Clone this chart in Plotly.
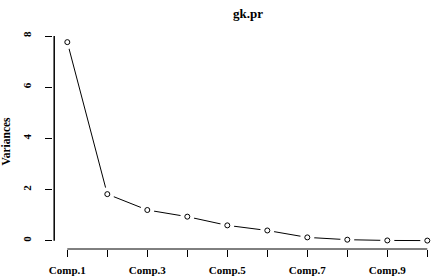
import plotly.graph_objects as go

categories = ["Comp.1", "Comp.2", "Comp.3", "Comp.4", "Comp.5",
              "Comp.6", "Comp.7", "Comp.8", "Comp.9", "Comp.10"]
variances = [7.76, 1.82, 1.20, 0.94, 0.60, 0.40, 0.13, 0.04, 0.01, 0.005]
x_tick_labels = ["Comp.1", "", "Comp.3", "", "Comp.5", "", "Comp.7", "", "Comp.9", ""]
y_ticks = [0, 2, 4, 6, 8]
title_text = "gk.pr"
y_title = "Variances"

FONT = "Liberation Serif"
Y_RANGE = [-0.324, 8.078]
X_RANGE = [-0.3575, 9.1425]

fig = go.Figure()
fig.add_trace(go.Scatter(x=categories, y=variances, mode="lines",
                         line=dict(color="black", width=1), hoverinfo="skip"))
fig.add_trace(go.Scatter(x=categories, y=variances, mode="markers",
                         marker=dict(symbol="circle", size=14, color="white",
                                     line=dict(width=0)),
                         hoverinfo="skip"))
fig.add_trace(go.Scatter(x=categories, y=variances, mode="markers",
                         marker=dict(symbol="circle-open", size=5, color="black",
                                     line=dict(width=1, color="black"))))

fig.update_layout(
    width=433, height=278,
    margin=dict(l=53, r=0, t=34, b=29),
    paper_bgcolor="white", plot_bgcolor="white",
    showlegend=False,
    font=dict(family=FONT, color="black", size=11),
    title=dict(text="<b>%s</b>" % title_text, x=248 / 433, xanchor="center",
               y=1 - 13 / 278, yanchor="middle",
               font=dict(family=FONT, size=13, color="black")),
    xaxis=dict(type="category", range=X_RANGE,
               tickmode="array", tickvals=categories,
               ticktext=["<b>%s</b>" % t if t else "" for t in x_tick_labels],
               ticks="outside", ticklen=7, tickwidth=1, tickcolor="black",
               showgrid=False, zeroline=False, showline=False,
               ticklabelstandoff=4, automargin=False,
               tickfont=dict(family=FONT, size=11, color="black")),
    yaxis=dict(range=Y_RANGE, tickmode="array", tickvals=y_ticks,
               ticktext=["<b>%d</b>" % v for v in y_ticks],
               tickangle=-90, automargin=False,
               ticks="outside", ticklen=7, tickwidth=1, tickcolor="black",
               showgrid=False, zeroline=False, showline=False,
               ticklabelstandoff=10,
               tickfont=dict(family=FONT, size=11, color="black"),
               title=dict(text="<b>%s</b>" % y_title, standoff=14,
                          font=dict(family=FONT, size=11.5, color="black"))),
    shapes=[
        dict(type="line", xref="x", yref="paper", x0=0, x1=len(categories) - 1,
             y0=0, y1=0, line=dict(color="black", width=1)),
        dict(type="line", xref="x", yref="y", x0=X_RANGE[0] + 0.03,
             x1=X_RANGE[0] + 0.03,
             y0=y_ticks[0], y1=y_ticks[-1],
             line=dict(color="black", width=1.5)),
    ],
)

fig.write_html("out.html", config={"displayModeBar": False, "staticPlot": True},
               post_script="document.body.style.margin='0';document.body.style.overflow='hidden';")
